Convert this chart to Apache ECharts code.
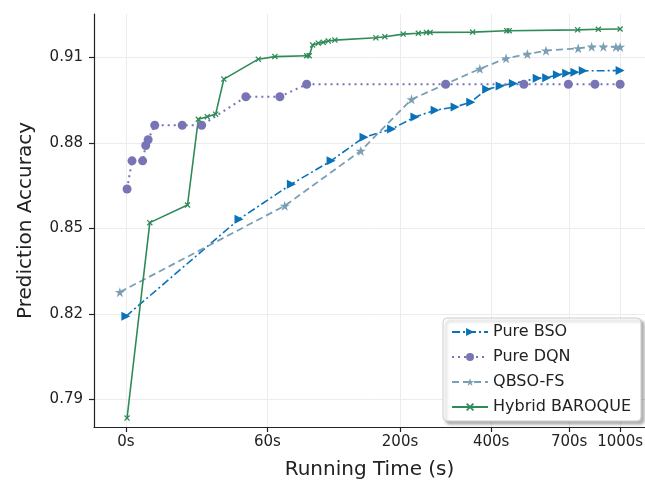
<!DOCTYPE html>
<html lang="en">

<head>
    <meta charset="UTF-8">
    <title>Prediction Accuracy vs Running Time</title>
    <script src="https://cdn.jsdelivr.net/npm/echarts@6.0.0/dist/echarts.min.js"></script>
    <style>
        html, body { margin: 0; padding: 0; background: #fff; }
        #chart { width: 645px; height: 484px; }
    </style>
</head>

<body>
    <div id="chart"></div>
    <script>
        // running time in seconds, accuracy
        var bsoTime = [0, 43, 77, 112, 149, 187, 225, 263, 306, 344, 387, 427, 470, 558, 597, 644, 688, 729, 773, 1000];
        var bsoAcc = [0.8191, 0.8532, 0.8655, 0.8737, 0.8820, 0.8849, 0.8891, 0.8915, 0.8926, 0.8943, 0.8988, 0.9000, 0.9009, 0.9027, 0.9029, 0.9039, 0.9045, 0.9048, 0.9053, 0.9054];

        var dqnTime = [0.3, 1.6, 4.5, 5.4, 6.1, 8.1, 17.4, 25.1, 46.8, 68.5, 89.4, 285, 507, 696, 839, 1000];
        var dqnAcc = [0.8638, 0.8737, 0.8737, 0.8791, 0.8811, 0.8862, 0.8862, 0.8862, 0.8962, 0.8962, 0.9006, 0.9006, 0.9006, 0.9006, 0.9006, 0.9006];

        var qbsoTime = [-1.5, 72, 145, 219, 368, 446, 520, 594, 746, 820, 890, 971, 1000];
        var qbsoAcc = [0.8276, 0.8579, 0.8772, 0.8953, 0.9060, 0.9097, 0.9112, 0.9124, 0.9132, 0.9138, 0.9138, 0.9137, 0.9137];

        var hybridTime = [0.3, 6.6, 19.4, 23.7, 27.5, 31.3, 35.2, 54.2, 65, 89.4, 91.6, 94.6, 99.7, 104.3, 109.2, 115.9, 164.5, 177, 205, 231, 246, 253, 349, 448, 456, 743, 859, 1000];
        var hybridAcc = [0.7834, 0.8520, 0.8582, 0.8883, 0.8892, 0.8901, 0.9024, 0.9094, 0.9103, 0.9106, 0.9106, 0.9144, 0.9150, 0.9153, 0.9158, 0.9161, 0.9169, 0.9173, 0.9182, 0.9185, 0.9188, 0.9188, 0.9189, 0.9194, 0.9194, 0.9197, 0.9199, 0.9200];

        var xTicks = [0, 60, 200, 400, 700, 1000];
        var yTicks = [0.79, 0.82, 0.85, 0.88, 0.91];

        // the time axis is log(t + shift), which matches the spacing in the figure
        var TIME_SHIFT = 38;

        var FONT = 'DejaVu Sans';
        var STAR = 'path://M50,0L61.2,34.6L97.6,34.5L68.1,55.9L79.4,90.5L50,69L20.6,90.5L31.9,55.9L2.4,34.5L38.8,34.6Z';
        var CROSS = 'path://M0,15L15,0L50,35L85,0L100,15L65,50L100,85L85,100L50,65L15,100L0,85L35,50Z';

        function pairs(times, vals) {
            return times.map(function (t, i) { return [t + TIME_SHIFT, vals[i]]; });
        }

        var chart = echarts.init(document.getElementById('chart'));
        chart.setOption({
            animation: false,
            textStyle: { fontFamily: FONT },
            grid: {
                left: 94,
                right: 0,
                top: 14,
                bottom: 57,
                containLabel: false,
                outerBoundsMode: 'none'
            },
            legend: {
                orient: 'vertical',
                right: 4,
                bottom: 63,
                align: 'left',
                itemWidth: 36,
                itemHeight: 10,
                itemGap: 9,
                padding: [6, 10, 6, 8],
                backgroundColor: '#fff',
                borderColor: '#cccccc',
                borderWidth: 1,
                borderRadius: 4,
                shadowColor: 'rgba(0,0,0,0.3)',
                shadowBlur: 3,
                shadowOffsetX: 3,
                shadowOffsetY: 3,
                textStyle: { fontFamily: FONT, fontSize: 16, color: '#222' },
                data: ['Pure BSO', 'Pure DQN', 'QBSO-FS', 'Hybrid BAROQUE']
            },
            xAxis: {
                type: 'log',
                logBase: 10,
                min: -7.3 + TIME_SHIFT,
                max: 1188 + TIME_SHIFT,
                name: 'Running Time (s)',
                nameLocation: 'middle',
                nameGap: 33,
                nameTextStyle: { fontFamily: FONT, fontSize: 20, color: '#222' },
                axisLine: { onZero: false, lineStyle: { color: '#222', width: 1.2 } },
                axisTick: {
                    show: true,
                    length: 5,
                    customValues: xTicks.map(function (t) { return t + TIME_SHIFT; }),
                    lineStyle: { color: '#222', width: 1.2 }
                },
                axisLabel: {
                    fontFamily: FONT,
                    fontSize: 15,
                    color: '#222',
                    margin: 8,
                    customValues: xTicks.map(function (t) { return t + TIME_SHIFT; }),
                    formatter: function (v) { return Math.round(v - TIME_SHIFT) + 's'; }
                },
                splitLine: { show: true, lineStyle: { color: '#ececec', width: 1 } },
                minorTick: { show: false },
                minorSplitLine: { show: false }
            },
            yAxis: {
                type: 'value',
                min: 0.78025,
                max: 0.92526,
                name: 'Prediction Accuracy',
                nameLocation: 'middle',
                nameGap: 58,
                nameTextStyle: { fontFamily: FONT, fontSize: 20, color: '#222' },
                axisLine: { show: true, lineStyle: { color: '#222', width: 1.2 } },
                axisTick: {
                    show: true,
                    length: 5,
                    customValues: yTicks,
                    lineStyle: { color: '#222', width: 1.2 }
                },
                axisLabel: {
                    fontFamily: FONT,
                    fontSize: 15,
                    color: '#222',
                    margin: 11,
                    customValues: yTicks,
                    formatter: function (v) { return v.toFixed(2); }
                },
                splitLine: { show: true, lineStyle: { color: '#ececec', width: 1 } }
            },
            series: [
                {
                    name: 'Pure BSO',
                    type: 'line',
                    data: pairs(bsoTime, bsoAcc),
                    symbol: 'triangle',
                    symbolRotate: -90,
                    symbolSize: 9,
                    color: '#0a72b8',
                    lineStyle: { width: 1.6, type: [8, 3, 2, 3] },
                    itemStyle: { color: '#0a72b8' }
                },
                {
                    name: 'Pure DQN',
                    type: 'line',
                    data: pairs(dqnTime, dqnAcc),
                    symbol: 'circle',
                    symbolSize: 9,
                    color: '#7874b5',
                    lineStyle: { width: 2, type: [2, 4] },
                    itemStyle: { color: '#7874b5' }
                },
                {
                    name: 'QBSO-FS',
                    type: 'line',
                    data: pairs(qbsoTime, qbsoAcc),
                    symbol: STAR,
                    symbolSize: 10,
                    color: '#7a9fb5',
                    lineStyle: { width: 1.8, type: [7, 4] },
                    itemStyle: { color: '#7a9fb5' }
                },
                {
                    name: 'Hybrid BAROQUE',
                    type: 'line',
                    data: pairs(hybridTime, hybridAcc),
                    symbol: CROSS,
                    symbolSize: 6,
                    color: '#2e8b57',
                    lineStyle: { width: 1.6 },
                    itemStyle: { color: '#2e8b57' }
                }
            ]
        });
    </script>
</body>

</html>
